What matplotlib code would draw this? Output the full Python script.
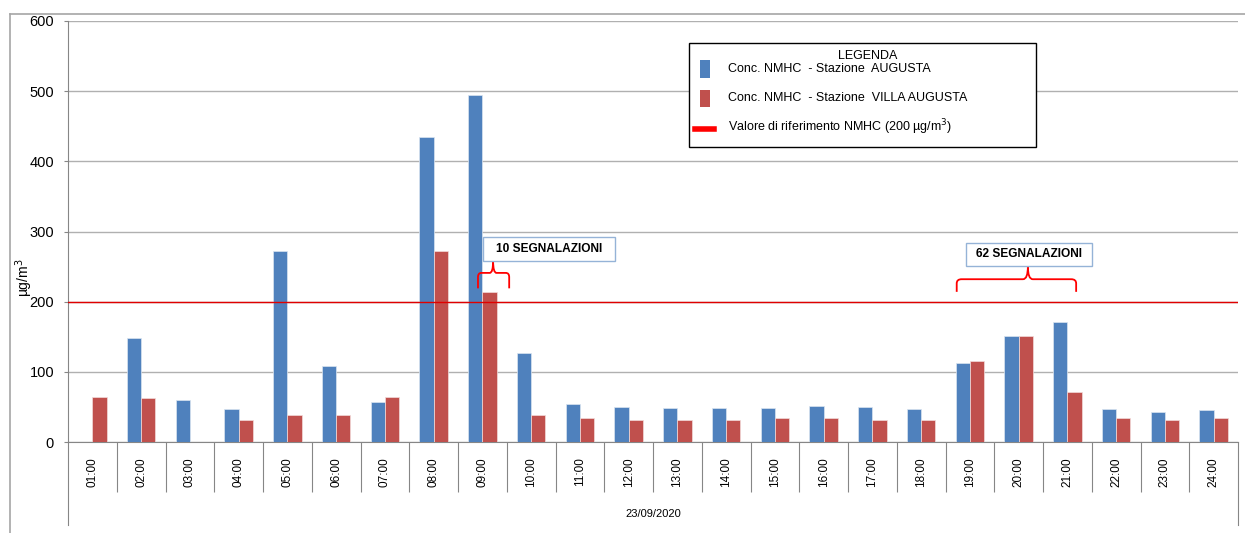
import matplotlib
matplotlib.use("Agg")
import matplotlib.pyplot as plt
import numpy as np
from matplotlib.path import Path
from matplotlib.patches import PathPatch, Rectangle
from matplotlib.lines import Line2D

plt.rcParams["font.family"] = ["Liberation Sans", "DejaVu Sans"]

hours = ["01:00", "02:00", "03:00", "04:00", "05:00", "06:00", "07:00", "08:00",
         "09:00", "10:00", "11:00", "12:00", "13:00", "14:00", "15:00", "16:00",
         "17:00", "18:00", "19:00", "20:00", "21:00", "22:00", "23:00", "24:00"]
augusta = [np.nan, 148, 60, 47, 272, 108, 57, 434, 494, 127, 54, 50,
           48, 48, 48, 51, 50, 47, 113, 151, 171, 47, 43, 45]
villa_augusta = [64, 63, np.nan, 32, 39, 38, 64, 272, 214, 39, 34, 32,
                 31, 31, 34, 34, 31, 32, 116, 151, 71, 34, 32, 34]
soglia = 200
date_label = "23/09/2020"

W, H = 1245, 533
fig = plt.figure(figsize=(W / 100, H / 100), dpi=100)


def px(x, y):
    return x / W, 1 - y / H


ax = fig.add_axes([68 / W, (H - 442) / H, 1170 / W, 421 / H])

x = np.arange(len(hours))
bw = 0.29
ax.bar(x - bw / 2, augusta, bw, color="#4f81bd", edgecolor="#dbe5f1", lw=0.5, zorder=3)
ax.bar(x + bw / 2, villa_augusta, bw, color="#c0504d", edgecolor="#f2dcdb", lw=0.5, zorder=3)
ax.axhline(soglia, color="#e00000", lw=1.0, zorder=4)

ax.set_xlim(-0.5, len(hours) - 0.5)
ax.set_ylim(0, 600)
ax.set_yticks(np.arange(0, 601, 100))
ax.yaxis.grid(True, color="#b0b0b0", lw=1.0, zorder=0)
ax.tick_params(axis="y", length=3, color="#868686", pad=7, labelsize=10.5)

ax.set_xticks(x)
ax.set_xticklabels(hours, rotation=90, fontsize=8.5)
ax.set_xticks(np.arange(0.5, len(hours) - 1, 1), minor=True)
ax.tick_params(axis="x", which="major", length=0, pad=11)
ax.tick_params(axis="x", which="minor", length=36, color="#868686", width=0.8)

for sp in ("top", "right"):
    ax.spines[sp].set_visible(False)
for sp in ("left", "bottom"):
    ax.spines[sp].set_color("#868686")
    ax.spines[sp].set_linewidth(0.8)

# outer lines of the category axis (date level)
for xa in (0, 1):
    ax.add_line(Line2D([xa, xa], [0, -0.197], transform=ax.transAxes,
                       color="#868686", lw=0.8, clip_on=False))
ax.text(0.5, -0.17, date_label, transform=ax.transAxes, ha="center", va="center",
        fontsize=8)

ax.set_ylabel("µg/m$^3$", fontsize=10)
ax.yaxis.set_label_coords(-0.028, 0.39)


def brace(x0, x1, xm, yb, yh, yt, rx=0.07, ry=6):
    verts = [(x0, yb), (x0, yh - ry), (x0, yh), (x0 + rx, yh), (xm - rx, yh),
             (xm, yh), (xm, yt), (xm, yh), (xm + rx, yh), (x1 - rx, yh),
             (x1, yh), (x1, yh - ry), (x1, yb)]
    codes = [Path.MOVETO, Path.LINETO, Path.CURVE3, Path.CURVE3, Path.LINETO,
             Path.CURVE3, Path.CURVE3, Path.CURVE3, Path.CURVE3, Path.LINETO,
             Path.CURVE3, Path.CURVE3, Path.LINETO]
    ax.add_patch(PathPatch(Path(verts, codes), fc="none", ec="#ff0000", lw=1.3,
                           zorder=5, clip_on=False))


def callout(x0, x1, y0, y1, text):
    ax.add_patch(Rectangle((x0, y0), x1 - x0, y1 - y0, fc="white", ec="#95b3d7",
                           lw=1.0, zorder=5))
    ax.text((x0 + x1) / 2, (y0 + y1) / 2, text, ha="center", va="center",
            fontsize=8.6, fontweight="bold", zorder=6)


brace(7.91, 8.55, 8.22, 219, 241, 258)
callout(8.01, 10.72, 258, 292.5, "10 SEGNALAZIONI")
brace(17.73, 20.18, 19.19, 214, 232, 250, rx=0.1)
callout(17.92, 20.5, 251, 283.5, "62 SEGNALAZIONI")

# chart frame
fig.add_artist(Line2D([10 / W, 1], [1 - 13.5 / H] * 2, color="#a6a6a6", lw=1.2))
fig.add_artist(Line2D([10 / W] * 2, [0, 1 - 13.5 / H], color="#a6a6a6", lw=1.2))

# legend
lx0, ly0 = px(689, 147)
lx1, ly1 = px(1036, 43)
fig.add_artist(Rectangle((lx0, ly0), lx1 - lx0, ly1 - ly0, transform=fig.transFigure,
                         fc="white", ec="black", lw=1.0))
fig.text(*px(868, 56), "LEGENDA", ha="center", va="center", fontsize=9)
entries = [("#4f81bd", "Conc. NMHC  - Stazione  AUGUSTA", 69),
           ("#c0504d", "Conc. NMHC  - Stazione  VILLA AUGUSTA", 98)]
for col, lab, yc in entries:
    rx0, ry0 = px(700, yc + 8.5)
    rx1, ry1 = px(710, yc - 8.5)
    fig.add_artist(Rectangle((rx0, ry0), rx1 - rx0, ry1 - ry0, transform=fig.transFigure,
                             fc=col, ec="none"))
    fig.text(*px(728, yc), lab, ha="left", va="center", fontsize=9)
fig.add_artist(Line2D([695 / W, 714 / W], [1 - 129 / H] * 2, color="#ff0000", lw=4))
fig.text(*px(728, 127), "Valore di riferimento NMHC (200 µg/m$^3$)", ha="left",
         va="center", fontsize=9)

fig.savefig("out.png", dpi=100)
